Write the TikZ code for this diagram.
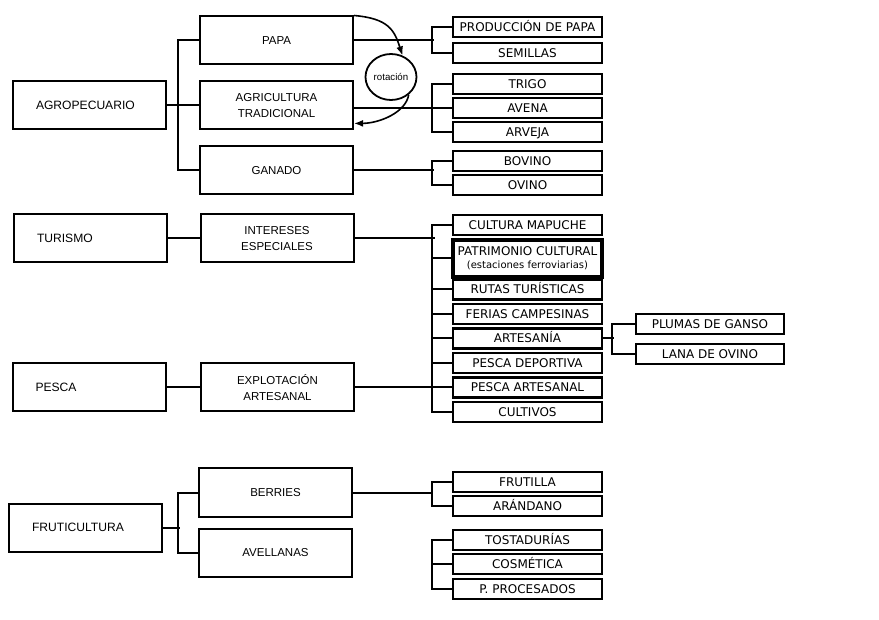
\documentclass[tikz,border=0pt]{standalone}
\usepackage{fontspec}
\setmainfont{Liberation Sans}
\newfontfamily\leaffont{DejaVu Sans}
\usepackage{tikz}
\usetikzlibrary{arrows.meta,calc,shapes.geometric}
\tikzset{sectorbox/.style={draw, rectangle, line width=2pt, minimum width=153pt, minimum height=48pt, text width=107pt, inner xsep=23pt, align=left, text height=8.6pt, text depth=0pt, font=\fontsize{12.1}{14}\selectfont}}
\tikzset{activitybox/.style={draw, rectangle, line width=2pt, minimum width=153pt, minimum height=48pt, align=center, font=\fontsize{11.5}{15.5}\selectfont}}
\tikzset{leafbase/.style={draw, rectangle, line width=2.4pt, minimum width=149pt, minimum height=20pt, inner sep=1pt, node distance=24pt, font=\leaffont\fontsize{12}{14}\selectfont}}
\tikzset{leafbox/.style={leafbase, text height=8.7pt, text depth=0pt}}
\tikzset{rotbox/.style={draw, ellipse, line width=1.8pt, minimum width=51pt, minimum height=46pt, inner sep=0pt, font=\fontsize{9.7}{11}\selectfont}}
\tikzset{link/.style={draw, line width=2pt}}
\tikzset{rotline/.style={draw, line width=1.6pt, -{Latex[length=9pt, width=7pt]}}}

\begin{document}
\begin{tikzpicture}[x=1pt, y=-1pt]
		\useasboundingbox (0,0) rectangle (879,620);
		% sectores
		\node [sectorbox] (agro) at (89.5,105.5) {AGROPECUARIO};
		\node [sectorbox] (turismo) at (90.5,238.5) {TURISMO};
		\node [sectorbox] (pesca) at (89,387.5) {PESCA};
		\node [sectorbox] (fruti) at (85.5,527.5) {FRUTICULTURA};
		
		% actividades
		\node [activitybox, right of=agro, node distance=187pt] (agritrad) {AGRICULTURA\\TRADICIONAL};
		\node [activitybox, above of=agritrad, node distance=65pt] (papa) {PAPA};
		\node [activitybox, below of=agritrad, node distance=65pt] (ganado) {GANADO};
		\node [activitybox, right of=turismo, node distance=186.5pt] (intereses) {INTERESES\\ESPECIALES};
		\node [activitybox, right of=pesca, node distance=188.5pt] (explot) {EXPLOTACIÓN\\ARTESANAL};
		\node [activitybox] (berries) at (275.5,492.5) {BERRIES};
		\node [activitybox, below of=berries, node distance=60.5pt] (avellanas) {AVELLANAS};
		
		\node [rotbox] (rot) at (391,77) {rotación};
		
		% productos
		\node [leafbox] (prod) at (527.5,27) {PRODUCCIÓN DE PAPA};
		\node [leafbox, below of=prod, node distance=26pt] (semillas) {SEMILLAS};
		\node [leafbox] (trigo) at (527.5,84) {TRIGO};
		\node [leafbox, below of=trigo] (avena) {AVENA};
		\node [leafbox, below of=avena] (arveja) {ARVEJA};
		\node [leafbox] (bovino) at (527.5,161) {BOVINO};
		\node [leafbox, below of=bovino] (ovino) {OVINO};
		
		\node [leafbox] (mapuche) at (527.5,225) {CULTURA MAPUCHE};
		\node [leafbase, line width=3.2pt, minimum height=37pt, align=center, below of=mapuche, node distance=33.5pt] (patrimonio) {PATRIMONIO CULTURAL\\[-1pt]{\fontsize{10}{12}\selectfont(estaciones ferroviarias)}};
		\node [leafbox, below of=patrimonio, node distance=31pt] (rutas) {RUTAS TURÍSTICAS};
		\node [leafbox, below of=rutas, node distance=24.5pt] (ferias) {FERIAS CAMPESINAS};
		\node [leafbox, below of=ferias, node distance=24.5pt] (artesania) {ARTESANÍA};
		\node [leafbox, below of=artesania, node distance=24.5pt] (pdeportiva) {PESCA DEPORTIVA};
		\node [leafbox, below of=pdeportiva, node distance=24.5pt] (partesanal) {PESCA ARTESANAL};
		\node [leafbox, below of=partesanal, node distance=24.5pt] (cultivos) {CULTIVOS};
		
		\node [leafbox, minimum width=148pt] (plumas) at (710,324) {PLUMAS DE GANSO};
		\node [leafbox, minimum width=148pt, below of=plumas, node distance=30pt] (lana) {LANA DE OVINO};
		
		\node [leafbox] (frutilla) at (527.5,482) {FRUTILLA};
		\node [leafbox, below of=frutilla] (arandano) {ARÁNDANO};
		\node [leafbox] (tosta) at (527.5,540) {TOSTADURÍAS};
		\node [leafbox, below of=tosta] (cosmetica) {COSMÉTICA};
		\node [leafbox, below of=cosmetica, node distance=25pt] (procesados) {P. PROCESADOS};
		
		% agropecuario
		\path [link] (agro) -- (agritrad);
		\path [link] (papa.west) -- ++(-21,0) |- (ganado.west);
		\path [link] (papa.east) -- ++(80,0);
		\path [link] (prod.west) -- ++(-20,0) |- (semillas.west);
		\path [link] (agritrad.east |- avena.west) -- (avena.west);
		\path [link] (trigo.west) -- ++(-20,0) |- (arveja.west);
		\path [link] (ganado.east) -- ++(80,0);
		\path [link] (bovino.west) -- ++(-20,0) |- (ovino.west);
		
		\path [rotline] (papa.north east) .. controls +(35,3) and +(-8,-25) .. (rot.62);
		\path [rotline] (rot.-45) .. controls +(-3,18) and +(25,0) .. (agritrad.-13);
		
		% turismo y pesca
		\path [link] (turismo) -- (intereses);
		\path [link] (intereses.east) -- ++(80,0);
		\path [link] (mapuche.west) -- ++(-20,0) |- (cultivos.west);
		\foreach \leaf in {patrimonio, rutas, ferias, artesania, pdeportiva, partesanal}
			\path [link] (\leaf.west) -- ++(-20,0);
		\path [link] (pesca) -- (explot);
		\path [link] (explot.east) -- (partesanal.west);
		\path [link] (artesania.east) -- ++(11,0);
		\path [link] (plumas.west) -- ++(-23,0) |- (lana.west);
		
		% fruticultura
		\path [link] (fruti.east) -- ++(17,0);
		\path [link] (berries.west) -- ++(-20,0) |- (avellanas.west);
		\path [link] (berries.east) -- ++(80,0);
		\path [link] (frutilla.west) -- ++(-20,0) |- (arandano.west);
		\path [link] (tosta.west) -- ++(-20,0) |- (procesados.west);
		\path [link] (cosmetica.west) -- ++(-20,0);
		
\end{tikzpicture}
\end{document}
